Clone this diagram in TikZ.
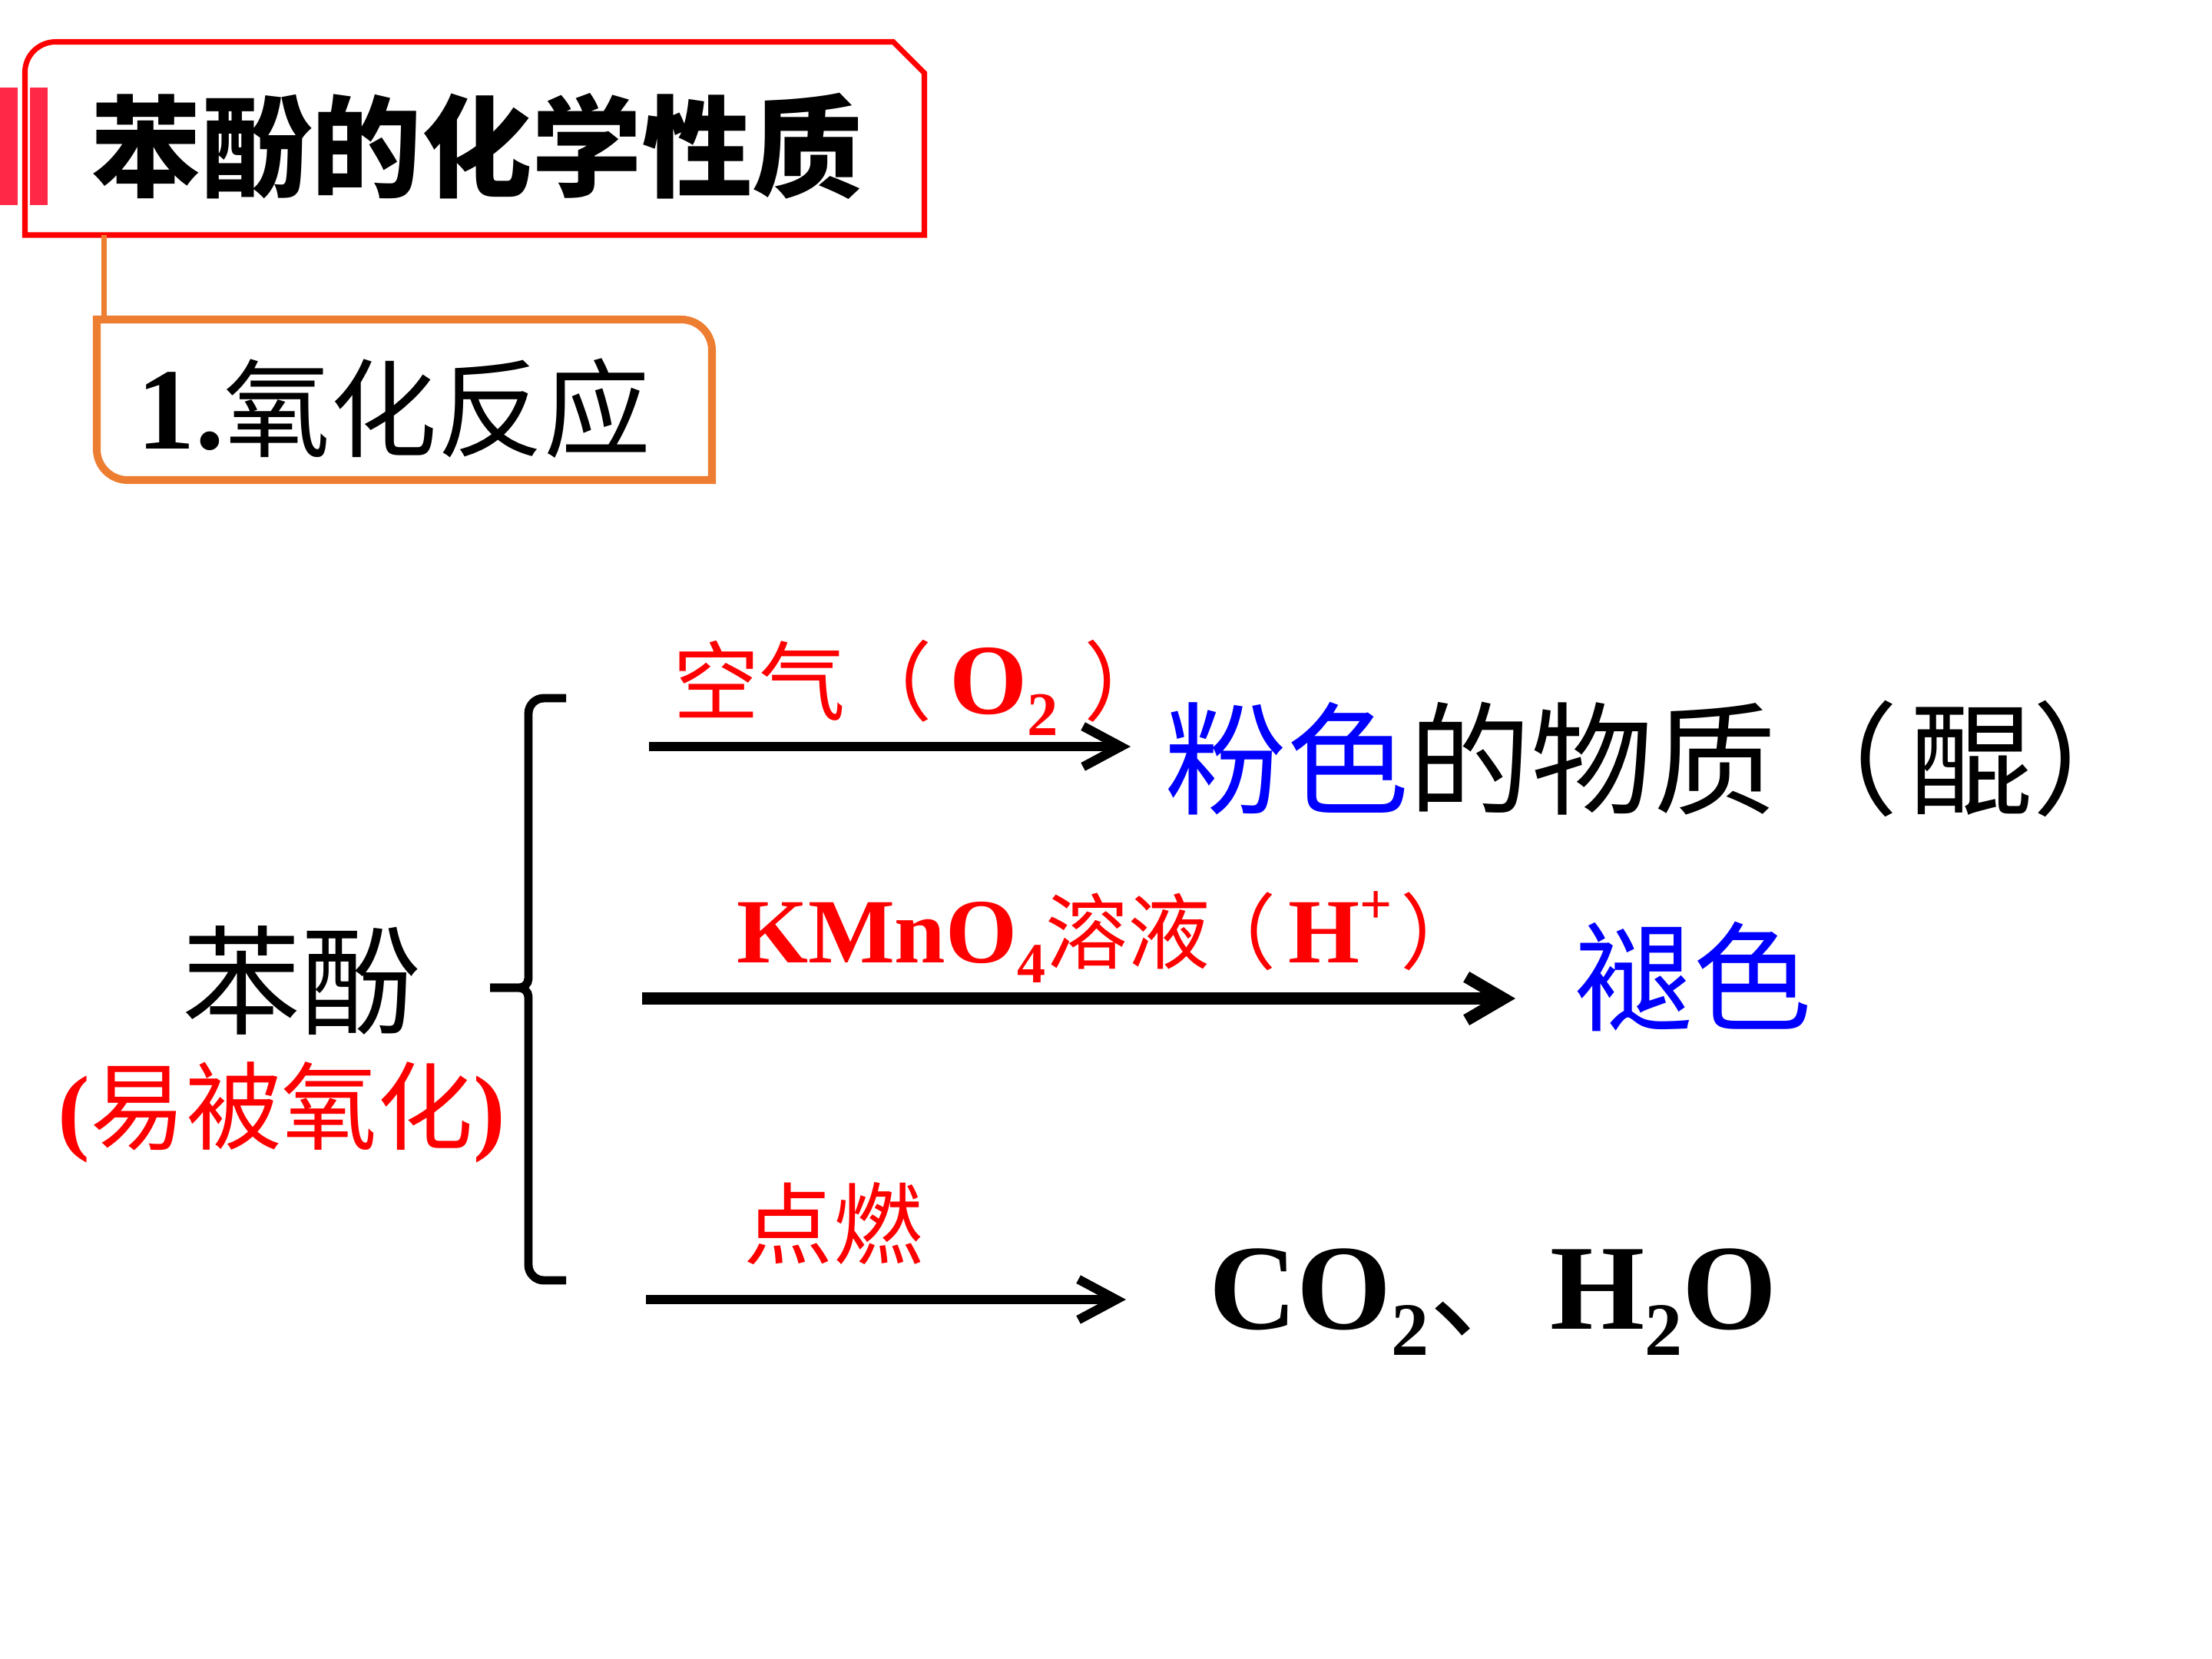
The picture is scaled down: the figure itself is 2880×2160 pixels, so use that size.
\documentclass[tikz,border=0pt]{standalone}
\usepackage{fontspec}
\usepackage{graphicx}
\usetikzlibrary{arrows.meta}
\setmainfont{Liberation Serif}
\newfontfamily\cjk{Noto Sans CJK SC}
\newcommand\mydn[1]{\raisebox{-0.22em}{\scalebox{0.62}{#1}}}
\newcommand\myup[1]{\raisebox{0.42em}{\scalebox{0.62}{#1}}}
\definecolor{tred}{RGB}{255,0,0}
\definecolor{tblue}{RGB}{0,0,255}
\definecolor{barred}{RGB}{255,40,70}
\definecolor{tor}{RGB}{237,125,49}
\begin{document}
\begin{tikzpicture}[x=0.01cm,y=-0.01cm,
  txt/.style={inner sep=0pt,outer sep=0pt},
  rx/.style={line width=3.4pt,-{Straight Barb[length=14pt,width=15pt]}},
  rxb/.style={line width=4.5pt,-{Straight Barb[length=13.7pt,width=16pt]}},
  lab/.style={txt,text=tred}]
\useasboundingbox (0,0) rectangle (2880,2160);
% left bars
\fill[barred] (0,114) rectangle (23,267);
\fill[barred] (39,114) rectangle (62,267);
% title box
\draw[tred,line width=2pt] (32.5,306) -- (32.5,94) .. controls (32.5,72) and (50.5,54.5) .. (72.5,54.5) -- (1163,54.5) -- (1203.5,95) -- (1203.5,306) -- cycle;
\node[txt] (title) at (621,190) {\cjk\bfseries\fontsize{40.8}{48}\selectfont 苯酚的化学性质};
% connector
\coordinate (tb) at (135.5,306);
\coordinate (ob) at (135.5,416);
\draw[tor,line width=2pt] (tb) -- (ob);
% sub box
\draw[tor,line width=2.85pt] (126,416) -- (887,416) .. controls (909,416) and (927,434) .. (927,456) -- (927,625) -- (166,625) .. controls (144,625) and (126,607) .. (126,585) -- cycle;
\node[txt,anchor=base] (sub) at (513,584) {\fontsize{39.5}{47}\selectfont{\fontsize{43}{50}\selectfont\bfseries 1.}{\cjk 氧化反应}};
% brace
\draw[line width=3.1pt] (737,909) -- (708,909) .. controls (697,909) and (688,918) .. (688,929) -- (688,1274) .. controls (688,1281) and (682,1286) .. (676,1286) -- (638,1286);
\draw[line width=3.1pt] (638,1286) -- (676,1286) .. controls (682,1286) and (688,1291) .. (688,1298) -- (688,1647) .. controls (688,1658) and (697,1667) .. (708,1667) -- (737,1667);
% phenol
\node[txt] (ph) at (392,1277) {\cjk\fontsize{44}{50}\selectfont 苯酚};
\node[txt,anchor=base,text=tred] (easy) at (367,1487) {\fontsize{35.5}{42}\selectfont\bfseries(\cjk\mdseries 易被氧化\rmfamily\bfseries)};
% arrows
\coordinate (a1s) at (845,972);
\coordinate (a1e) at (1472,972);
\coordinate (a2s) at (836,1300);
\coordinate (a2e) at (1973,1300);
\coordinate (a3s) at (841,1692);
\coordinate (a3e) at (1466,1692);
\draw[rx] (a1s) -- (a1e);
\draw[rxb] (a2s) -- (a2e);
\draw[rx] (a3s) -- (a3e);
% labels
\node[lab,anchor=base west] (l1) at (876,929) {\fontsize{32}{38}\selectfont{\cjk 空气（}\hspace{0.2em}{\fontsize{37}{44}\selectfont\bfseries O\mydn{2}}\hspace{0.3em}{\cjk ）}};
\node[lab,anchor=base west] (l2) at (959,1253) {\fontsize{30.5}{36}\selectfont{\fontsize{34}{40}\selectfont\bfseries KMnO\mydn{4}}{\cjk 溶液\hspace{-0.2em}（}\hspace{0.15em}{\fontsize{34}{40}\selectfont\bfseries H\myup{+}}\hspace{0.1em}{\cjk ）}};
\node[lab] (l3) at (1085,1593) {\cjk\fontsize{33}{40}\selectfont 点燃};
% products
\node[txt,anchor=west] (p1) at (1516,988) {\cjk\fontsize{45.3}{50}\selectfont{\color{tblue}粉色}的物质（\hspace{0.1em}醌）};
\node[txt,text=tblue] (p2) at (2204,1271) {\cjk\fontsize{44}{52}\selectfont 褪色};
\node[txt,anchor=base] (p3) at (1944,1730) {\fontsize{45}{54}\selectfont\bfseries CO\mydn{2}{\cjk\mdseries 、}H\mydn{2}O};
\end{tikzpicture}
\end{document}
